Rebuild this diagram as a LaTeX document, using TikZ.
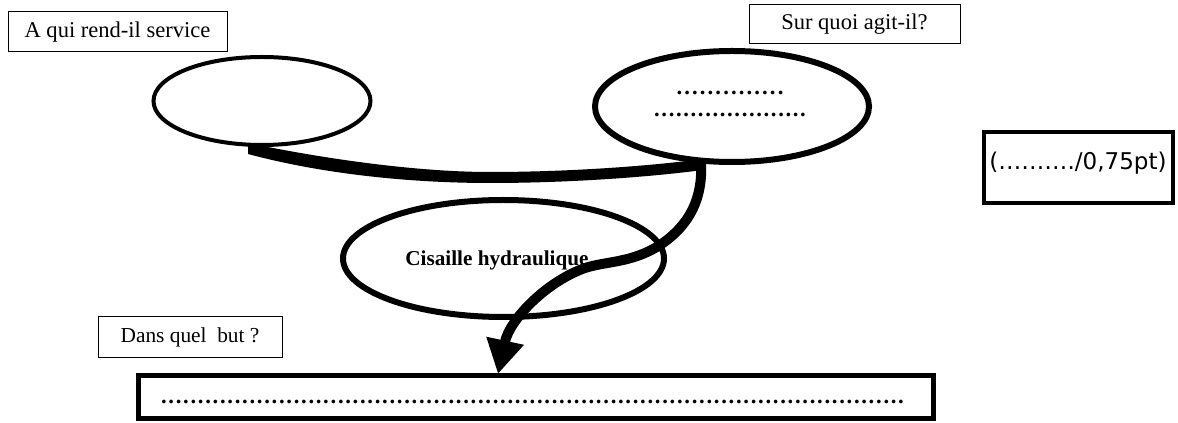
\documentclass[tikz,border=0pt]{standalone}
\usepackage{fontspec}
\setmainfont{Liberation Serif}
\newfontfamily\dejavu{DejaVu Sans}
\usetikzlibrary{shapes.geometric,arrows.meta}
\newcommand\dotrow[1]{\hbox to #1{\xleaders\hbox to 5.475pt{\hss\textbf{.}\hss}\hfill}}
\tikzset{
  qbox/.style={draw, line width=0.75pt, inner sep=0pt, rectangle,
    font=\fontsize{16.9pt}{20pt}\selectfont},
  oval/.style={draw, ellipse, inner sep=0pt},
  flow/.style={line width=7.5pt, -{Triangle[length=25.5pt,width=27pt]}},
}
\begin{document}
\begin{tikzpicture}[x=0.75pt,y=-0.75pt]
\useasboundingbox (0,0) rectangle (1178,423);
% question boxes
\node[qbox, minimum width=164.25pt, minimum height=30pt] (qa) at (117.5,32) {A qui rend-il service};
\node[qbox, minimum width=158.25pt, minimum height=29.25pt] (qs) at (854.5,24.5) {Sur quoi agit-il?};
\node[qbox, minimum width=138pt, minimum height=30.75pt, font=\fontsize{16pt}{19pt}\selectfont] (qd) at (190,337.5) {Dans quel\ \ but ?};
% ellipses
\node[oval, line width=3pt, minimum width=162.75pt, minimum height=66pt] (L) at (262,101) {};
\node[oval, line width=4.5pt, minimum width=205.5pt, minimum height=83.25pt] (R) at (732,106.5) {};
\node[font=\fontsize{17pt}{16.5pt}\selectfont, align=center, inner sep=0pt] (Rt) at (730,104) {\dotrow{82.1pt}\\[0pt]\dotrow{115pt}};
\node[oval, line width=4.5pt, minimum width=240.75pt, minimum height=87.75pt] (C) at (503.5,258.5) {};
\node[font=\bfseries\fontsize{15.9pt}{19pt}\selectfont, inner sep=0pt] (Ct) at (497,260) {Cisaille hydraulique};
% bottom answer box
\node[draw, rectangle, line width=3.75pt, inner sep=0pt, minimum width=596.25pt, minimum height=32.25pt] (B) at (536,397) {};
\node[font=\fontsize{17pt}{20pt}\selectfont, inner sep=0pt] (Bt) at (532.5,402) {\dotrow{558.45pt}};
% score box
\node[draw, rectangle, line width=3pt, inner sep=0pt, minimum width=141.75pt, minimum height=53.25pt] (V) at (1078.5,167.5) {};
\node[font=\dejavu\fontsize{17.3pt}{20pt}\selectfont, inner sep=0pt] (Vt) at (1078,163) {(………./0,75pt)};
% connectors
\coordinate (s1) at (248,143);
\coordinate (s2) at (248,154);
\coordinate (mt) at (703,159);
\coordinate (mb) at (703,170);
\coordinate (tip) at (498,374);
\fill (s1) .. controls (330,160) and (420,172) .. (490,172)
           .. controls (570,172) and (650,166) .. (mt)
      -- (mb) .. controls (650,177) and (570,183) .. (490,183)
           .. controls (420,183) and (330,176) .. (s2) -- cycle;
\draw[flow] (701,162) .. controls (703,198) and (690,225) .. (660,245)
   .. controls (632,263) and (607,261) .. (585,268)
   .. controls (548,281) and (510,318) .. (tip);
\end{tikzpicture}
\end{document}
